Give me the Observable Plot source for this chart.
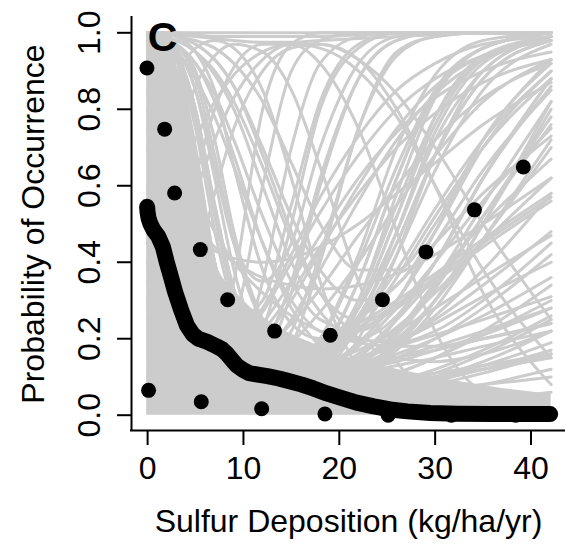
<!DOCTYPE html>
<html><head><meta charset="utf-8">
<script src="https://cdn.jsdelivr.net/npm/d3@7"></script>
<script src="https://cdn.jsdelivr.net/npm/@observablehq/plot@0.6"></script>
<style>html,body{margin:0;padding:0;background:#fff;}</style>
</head><body><div id="chart"></div>
<script>
// ---- Axis definitions ----
const xTicks = [0, 10, 20, 30, 40];
const yTicks = [0, 0.2, 0.4, 0.6, 0.8, 1.0];
const xDomain = [-1.68, 43.6];
const yDomain = [-0.04, 1.04];
const xTitle = "Sulfur Deposition (kg/ha/yr)";
const yTitle = "Probability of Occurrence";
const panelLabel = "C";

// ---- Binned observations (black dots) ----
const upperX = [-0.07, 1.78, 2.82, 5.5, 8.35, 13.25, 19.06, 24.5, 29.04, 34.1, 39.2];
const upperY = [0.908, 0.748, 0.581, 0.433, 0.302, 0.220, 0.209, 0.302, 0.427, 0.537, 0.649];
const lowerX = [0.1, 5.6, 11.9, 18.5, 25.1, 31.7, 38.4];
const lowerY = [0.065, 0.035, 0.017, 0.003, 0.0, 0.0, 0.0];

// ---- Fitted probability (thick black curve) ----
const fitX = [-0.05, 0.0, 0.1, 0.3, 0.6, 1.1, 1.6, 2.0, 2.4, 2.9, 3.5, 4.1, 4.7, 5.3, 6.2, 7.2, 7.8, 8.3, 8.8, 9.3, 10.0, 10.6, 11.5, 12.5, 13.7, 14.9, 16.1, 17.3, 18.7, 20.1, 21.8, 23.6, 25.3, 27.1, 29.5, 32.3, 36.0, 39.0, 42.0];
const fitY = [0.545, 0.53, 0.515, 0.50, 0.485, 0.468, 0.44, 0.40, 0.365, 0.32, 0.275, 0.235, 0.212, 0.200, 0.192, 0.180, 0.172, 0.160, 0.145, 0.130, 0.118, 0.110, 0.106, 0.102, 0.096, 0.088, 0.080, 0.070, 0.057, 0.046, 0.033, 0.023, 0.015, 0.010, 0.006, 0.004, 0.003, 0.003, 0.003];

// ---- Bootstrap curves (grey), y values read at gridX ----
const gridX = [0, 1.5, 3, 5, 7, 9, 12, 15, 18, 22, 26, 30, 35, 42.1];
const greyCurves = [
  // narrow U, back to 1 early
  [1.00, 0.90, 0.55, 0.20, 0.15, 0.35, 0.80, 0.97, 1, 1, 1, 1, 1, 1],
  [1.00, 0.97, 0.80, 0.40, 0.20, 0.25, 0.60, 0.90, 0.98, 1, 1, 1, 1, 1],
  [0.98, 0.75, 0.40, 0.15, 0.08, 0.12, 0.35, 0.70, 0.92, 0.99, 1, 1, 1, 1],
  [1.00, 0.99, 0.93, 0.70, 0.40, 0.25, 0.30, 0.55, 0.82, 0.97, 1, 1, 1, 1],
  [0.95, 0.65, 0.30, 0.12, 0.08, 0.10, 0.22, 0.50, 0.80, 0.96, 1, 1, 1, 1],
  [1.00, 0.98, 0.90, 0.65, 0.38, 0.22, 0.20, 0.35, 0.62, 0.88, 0.98, 1, 1, 1],
  [0.99, 0.85, 0.55, 0.25, 0.12, 0.09, 0.14, 0.32, 0.60, 0.88, 0.98, 1, 1, 1],
  [1.00, 0.99, 0.96, 0.85, 0.65, 0.45, 0.35, 0.45, 0.70, 0.92, 0.99, 1, 1, 1],
  [0.97, 0.70, 0.35, 0.15, 0.08, 0.06, 0.08, 0.18, 0.40, 0.75, 0.95, 0.99, 1, 1],
  [1.00, 0.95, 0.75, 0.45, 0.25, 0.16, 0.14, 0.22, 0.42, 0.75, 0.94, 0.99, 1, 1],
  // medium U, high at right
  [1.00, 0.98, 0.88, 0.60, 0.32, 0.16, 0.09, 0.10, 0.16, 0.35, 0.62, 0.84, 0.96, 1.00],
  [0.99, 0.90, 0.65, 0.32, 0.15, 0.08, 0.05, 0.06, 0.10, 0.24, 0.48, 0.74, 0.92, 0.99],
  [1.00, 0.99, 0.95, 0.80, 0.55, 0.32, 0.16, 0.12, 0.15, 0.30, 0.55, 0.78, 0.93, 0.99],
  [1.00, 0.96, 0.80, 0.50, 0.25, 0.13, 0.08, 0.08, 0.12, 0.25, 0.45, 0.68, 0.88, 0.98],
  [0.98, 0.82, 0.52, 0.24, 0.11, 0.06, 0.04, 0.05, 0.09, 0.20, 0.42, 0.68, 0.90, 0.99],
  [1.00, 0.99, 0.97, 0.90, 0.72, 0.48, 0.25, 0.16, 0.16, 0.26, 0.45, 0.68, 0.88, 0.98],
  [1.00, 0.97, 0.85, 0.55, 0.28, 0.15, 0.10, 0.12, 0.20, 0.40, 0.65, 0.85, 0.96, 1.00],
  [0.99, 0.93, 0.72, 0.40, 0.19, 0.10, 0.07, 0.08, 0.13, 0.28, 0.52, 0.76, 0.93, 0.99],
  [1.00, 1.00, 0.99, 0.95, 0.85, 0.65, 0.38, 0.24, 0.20, 0.28, 0.48, 0.72, 0.90, 0.99],
  [1.00, 0.98, 0.90, 0.68, 0.40, 0.22, 0.12, 0.10, 0.13, 0.24, 0.42, 0.64, 0.85, 0.97],
  [0.96, 0.75, 0.45, 0.20, 0.10, 0.06, 0.05, 0.07, 0.13, 0.30, 0.58, 0.83, 0.96, 1.00],
  [1.00, 0.99, 0.96, 0.85, 0.62, 0.38, 0.18, 0.12, 0.14, 0.28, 0.52, 0.78, 0.94, 0.99],
  [1.00, 0.95, 0.78, 0.48, 0.24, 0.13, 0.09, 0.11, 0.20, 0.42, 0.70, 0.89, 0.98, 1.00],
  [0.99, 0.88, 0.60, 0.30, 0.14, 0.08, 0.06, 0.08, 0.15, 0.35, 0.62, 0.85, 0.96, 1.00],
  // gentle U, minimum in the middle
  [1.00, 0.99, 0.97, 0.92, 0.84, 0.72, 0.52, 0.35, 0.25, 0.22, 0.30, 0.48, 0.72, 0.92],
  [1.00, 0.99, 0.98, 0.95, 0.90, 0.82, 0.65, 0.46, 0.32, 0.25, 0.28, 0.40, 0.62, 0.88],
  [1.00, 1.00, 0.99, 0.98, 0.96, 0.92, 0.82, 0.66, 0.50, 0.38, 0.38, 0.50, 0.72, 0.93],
  [1.00, 0.98, 0.95, 0.88, 0.78, 0.65, 0.45, 0.30, 0.22, 0.20, 0.26, 0.40, 0.62, 0.86],
  [1.00, 1.00, 0.99, 0.97, 0.93, 0.86, 0.70, 0.52, 0.38, 0.30, 0.34, 0.48, 0.70, 0.90],
  // moderate rise through the middle
  [0.90, 0.60, 0.35, 0.18, 0.12, 0.12, 0.16, 0.25, 0.38, 0.56, 0.72, 0.84, 0.93, 0.98],
  [0.70, 0.45, 0.28, 0.17, 0.13, 0.14, 0.20, 0.30, 0.43, 0.60, 0.75, 0.86, 0.94, 0.98],
  [0.50, 0.32, 0.22, 0.16, 0.15, 0.18, 0.27, 0.40, 0.53, 0.68, 0.80, 0.88, 0.94, 0.98],
  [0.40, 0.25, 0.17, 0.13, 0.13, 0.16, 0.24, 0.35, 0.47, 0.62, 0.74, 0.83, 0.90, 0.95],
  [0.80, 0.50, 0.30, 0.18, 0.13, 0.12, 0.14, 0.19, 0.27, 0.40, 0.55, 0.68, 0.82, 0.93],
  [0.30, 0.20, 0.15, 0.13, 0.14, 0.18, 0.28, 0.42, 0.57, 0.73, 0.85, 0.92, 0.97, 0.99],
  [0.60, 0.38, 0.24, 0.16, 0.13, 0.13, 0.17, 0.24, 0.33, 0.47, 0.60, 0.72, 0.83, 0.92],
  [0.25, 0.17, 0.13, 0.11, 0.12, 0.15, 0.22, 0.32, 0.44, 0.58, 0.70, 0.79, 0.87, 0.93],
  // wide U, mid-high at right
  [1.00, 0.96, 0.82, 0.55, 0.30, 0.17, 0.10, 0.08, 0.09, 0.14, 0.22, 0.34, 0.52, 0.76],
  [0.99, 0.88, 0.62, 0.33, 0.17, 0.10, 0.06, 0.05, 0.06, 0.10, 0.17, 0.28, 0.46, 0.72],
  [1.00, 0.99, 0.94, 0.78, 0.52, 0.30, 0.15, 0.10, 0.09, 0.12, 0.19, 0.30, 0.50, 0.80],
  [0.97, 0.78, 0.48, 0.23, 0.12, 0.08, 0.06, 0.06, 0.08, 0.13, 0.21, 0.33, 0.52, 0.78],
  [1.00, 0.98, 0.88, 0.62, 0.35, 0.19, 0.11, 0.09, 0.10, 0.15, 0.25, 0.40, 0.62, 0.88],
  [0.99, 0.92, 0.70, 0.40, 0.20, 0.11, 0.07, 0.06, 0.07, 0.11, 0.18, 0.30, 0.50, 0.82],
  [1.00, 0.99, 0.97, 0.88, 0.68, 0.45, 0.24, 0.15, 0.12, 0.14, 0.20, 0.30, 0.46, 0.70],
  [0.98, 0.85, 0.58, 0.30, 0.15, 0.09, 0.07, 0.08, 0.11, 0.18, 0.28, 0.40, 0.56, 0.75],
  [1.00, 0.97, 0.85, 0.58, 0.32, 0.18, 0.11, 0.10, 0.12, 0.19, 0.30, 0.45, 0.64, 0.85],
  [0.95, 0.70, 0.40, 0.19, 0.10, 0.07, 0.06, 0.07, 0.10, 0.16, 0.25, 0.36, 0.50, 0.67],
  [1.00, 0.99, 0.95, 0.80, 0.55, 0.33, 0.18, 0.12, 0.11, 0.14, 0.22, 0.35, 0.55, 0.82],
  [0.99, 0.90, 0.66, 0.36, 0.18, 0.11, 0.08, 0.09, 0.13, 0.22, 0.36, 0.52, 0.70, 0.88],
  [0.93, 0.66, 0.37, 0.18, 0.10, 0.07, 0.07, 0.09, 0.14, 0.24, 0.38, 0.54, 0.72, 0.90],
  [1.00, 0.98, 0.90, 0.66, 0.40, 0.23, 0.13, 0.10, 0.10, 0.13, 0.18, 0.26, 0.38, 0.58],
  // slow declines through the middle band
  [1.00, 0.99, 0.97, 0.92, 0.82, 0.68, 0.45, 0.28, 0.18, 0.12, 0.10, 0.10, 0.12, 0.16],
  [1.00, 1.00, 0.99, 0.97, 0.93, 0.86, 0.68, 0.48, 0.32, 0.20, 0.15, 0.14, 0.16, 0.22],
  [1.00, 0.99, 0.98, 0.95, 0.89, 0.80, 0.60, 0.40, 0.27, 0.20, 0.19, 0.22, 0.30, 0.45],
  [0.90, 0.80, 0.70, 0.58, 0.48, 0.40, 0.32, 0.26, 0.22, 0.19, 0.18, 0.18, 0.20, 0.24],
  [0.75, 0.66, 0.58, 0.50, 0.44, 0.40, 0.36, 0.34, 0.33, 0.34, 0.37, 0.42, 0.50, 0.62],
  [0.60, 0.55, 0.50, 0.46, 0.43, 0.41, 0.40, 0.41, 0.44, 0.50, 0.58, 0.66, 0.76, 0.87],
  // decreasing, staying low
  [1.00, 0.85, 0.55, 0.25, 0.12, 0.07, 0.05, 0.04, 0.04, 0.05, 0.06, 0.08, 0.11, 0.16],
  [0.95, 0.65, 0.33, 0.14, 0.07, 0.04, 0.03, 0.03, 0.03, 0.04, 0.05, 0.06, 0.08, 0.12],
  [1.00, 0.97, 0.85, 0.58, 0.32, 0.18, 0.10, 0.07, 0.06, 0.07, 0.08, 0.10, 0.14, 0.22],
  [0.90, 0.55, 0.25, 0.10, 0.05, 0.03, 0.02, 0.02, 0.02, 0.02, 0.03, 0.03, 0.04, 0.06],
  [1.00, 0.92, 0.70, 0.40, 0.22, 0.13, 0.09, 0.08, 0.09, 0.11, 0.15, 0.20, 0.28, 0.42],
  [0.85, 0.55, 0.30, 0.15, 0.09, 0.06, 0.05, 0.05, 0.06, 0.08, 0.11, 0.15, 0.22, 0.34],
  [0.70, 0.42, 0.22, 0.11, 0.07, 0.05, 0.04, 0.04, 0.05, 0.06, 0.08, 0.11, 0.16, 0.25],
  [0.60, 0.35, 0.19, 0.10, 0.07, 0.05, 0.05, 0.05, 0.06, 0.08, 0.11, 0.15, 0.21, 0.30],
  [0.80, 0.58, 0.38, 0.23, 0.15, 0.11, 0.09, 0.09, 0.10, 0.12, 0.15, 0.18, 0.22, 0.28],
  [0.55, 0.38, 0.25, 0.17, 0.12, 0.10, 0.09, 0.09, 0.10, 0.11, 0.13, 0.15, 0.18, 0.22],
  [0.45, 0.30, 0.19, 0.12, 0.08, 0.06, 0.05, 0.04, 0.04, 0.05, 0.06, 0.07, 0.08, 0.10],
  [1.00, 0.99, 0.93, 0.75, 0.48, 0.28, 0.14, 0.09, 0.07, 0.07, 0.08, 0.10, 0.13, 0.19],
  [0.75, 0.48, 0.27, 0.14, 0.08, 0.06, 0.05, 0.05, 0.06, 0.07, 0.09, 0.12, 0.17, 0.26],
  [0.99, 0.90, 0.65, 0.35, 0.18, 0.10, 0.06, 0.05, 0.05, 0.06, 0.07, 0.09, 0.12, 0.17],
  // low start, rising to the right
  [0.40, 0.30, 0.22, 0.15, 0.11, 0.09, 0.08, 0.09, 0.11, 0.16, 0.23, 0.32, 0.45, 0.62],
  [0.30, 0.22, 0.16, 0.11, 0.09, 0.08, 0.08, 0.09, 0.11, 0.14, 0.19, 0.25, 0.34, 0.48],
  [0.20, 0.16, 0.13, 0.10, 0.09, 0.08, 0.08, 0.09, 0.10, 0.13, 0.16, 0.20, 0.26, 0.36],
  [0.15, 0.12, 0.10, 0.09, 0.08, 0.08, 0.08, 0.09, 0.10, 0.12, 0.14, 0.17, 0.21, 0.28],
  [0.25, 0.20, 0.16, 0.13, 0.12, 0.11, 0.11, 0.12, 0.13, 0.15, 0.18, 0.21, 0.25, 0.31],
  [0.10, 0.09, 0.08, 0.08, 0.08, 0.08, 0.09, 0.10, 0.11, 0.13, 0.15, 0.17, 0.20, 0.24],
  [0.50, 0.36, 0.26, 0.18, 0.14, 0.12, 0.12, 0.14, 0.18, 0.25, 0.34, 0.45, 0.58, 0.73],
  [0.35, 0.26, 0.20, 0.16, 0.14, 0.13, 0.14, 0.16, 0.19, 0.24, 0.30, 0.37, 0.46, 0.58],
  [0.12, 0.10, 0.09, 0.08, 0.07, 0.07, 0.07, 0.08, 0.08, 0.09, 0.10, 0.11, 0.13, 0.16],
  [0.22, 0.17, 0.14, 0.12, 0.11, 0.11, 0.12, 0.14, 0.17, 0.22, 0.28, 0.35, 0.44, 0.56],
  [0.08, 0.07, 0.06, 0.06, 0.06, 0.06, 0.06, 0.07, 0.07, 0.08, 0.09, 0.10, 0.12, 0.15],
  [0.45, 0.33, 0.24, 0.17, 0.13, 0.11, 0.10, 0.11, 0.13, 0.17, 0.22, 0.28, 0.36, 0.47],
  [0.18, 0.15, 0.13, 0.12, 0.12, 0.12, 0.13, 0.15, 0.18, 0.23, 0.29, 0.36, 0.45, 0.57],
  [0.28, 0.21, 0.16, 0.12, 0.10, 0.09, 0.09, 0.10, 0.12, 0.15, 0.19, 0.24, 0.31, 0.40],
  // hump-shaped
  [0.30, 0.50, 0.70, 0.86, 0.94, 0.97, 0.95, 0.85, 0.65, 0.35, 0.14, 0.05, 0.01, 0.00],
  [0.10, 0.22, 0.40, 0.62, 0.80, 0.91, 0.97, 0.97, 0.92, 0.75, 0.48, 0.22, 0.06, 0.01],
  [0.50, 0.72, 0.87, 0.96, 0.98, 0.96, 0.85, 0.62, 0.35, 0.12, 0.03, 0.01, 0.00, 0.00],
  [0.05, 0.10, 0.20, 0.38, 0.58, 0.75, 0.90, 0.96, 0.97, 0.93, 0.80, 0.60, 0.32, 0.08],
  [0.40, 0.50, 0.60, 0.72, 0.82, 0.89, 0.95, 0.97, 0.96, 0.90, 0.78, 0.60, 0.38, 0.15],
  [0.20, 0.30, 0.42, 0.58, 0.72, 0.83, 0.93, 0.97, 0.97, 0.93, 0.84, 0.70, 0.50, 0.25],
  // saturated near 1
  [1, 1, 1, 1, 1, 1, 1, 1, 1, 1, 1, 1, 1, 1],
  [1, 1, 0.995, 0.99, 0.985, 0.98, 0.975, 0.975, 0.98, 0.985, 0.99, 0.995, 1, 1],
  [1, 1, 1, 0.995, 0.99, 0.99, 0.99, 0.99, 0.99, 0.995, 1, 1, 1, 1]
];

// ---- Dense envelope where the grey curves overlap completely ----
const denseX   = [-0.1, 2.5, 3.5, 5.0, 7.0, 10.0, 13.0, 17.0, 21.0, 26.0, 32.0, 37.0, 42.1];
const denseTop = [1.0, 1.0, 0.80, 0.55, 0.40, 0.30, 0.24, 0.19, 0.15, 0.12, 0.09, 0.07, 0.055];

// ---- Build tables ----
const greyRows = greyCurves.flatMap((ys, i) => ys.map((y, j) => ({curve: i, x: gridX[j], y})));
const denseRows = denseX.map((x, i) => ({x, top: denseTop[i]}));
const dotRows = upperX.map((x, i) => ({x, y: upperY[i]})).concat(lowerX.map((x, i) => ({x, y: lowerY[i]})));
const fitRows = fitX.map((x, i) => ({x, y: fitY[i]}));

const GREY = "#cccccc";
const chart = Plot.plot({
  width: 565,
  height: 544,
  marginLeft: 131,
  marginRight: 0,
  marginTop: 17,
  marginBottom: 114,
  x: {domain: xDomain},
  y: {domain: yDomain},
  style: {fontFamily: "'Liberation Sans', Arial, sans-serif", fontSize: "32px", color: "black", background: "white"},
  marks: [
    Plot.areaY(denseRows, {x: "x", y1: 0, y2: "top", fill: GREY, curve: "monotone-x"}),
    Plot.line(greyRows, {x: "x", y: "y", z: "curve", stroke: GREY, strokeWidth: 3, curve: "monotone-x"}),
    Plot.dot(dotRows, {x: "x", y: "y", r: 7.5, fill: "black", stroke: "none"}),
    Plot.line(fitRows, {x: "x", y: "y", stroke: "black", strokeWidth: 16, strokeLinecap: "round", strokeLinejoin: "round"}),
    Plot.text([panelLabel], {frameAnchor: "top-left", dx: 31, dy: 33, textAnchor: "middle", lineAnchor: "bottom", fontSize: 41, fontWeight: "bold", fill: "black"}),
    Plot.ruleX([xDomain[0]], {stroke: "black", strokeWidth: 2, strokeLinecap: "square"}),
    Plot.ruleY([yDomain[0]], {stroke: "black", strokeWidth: 2, strokeLinecap: "square"}),
    Plot.axisX({ticks: xTicks, tickSize: 15, tickPadding: 11, strokeWidth: 2, fontSize: 32, label: null}),
    Plot.axisY({ticks: yTicks, tickSize: 14, strokeWidth: 2, fill: "none", label: null}),
    Plot.text(yTicks, {y: d => d, text: d => d.toFixed(1), frameAnchor: "left", dx: -32, rotate: -90, textAnchor: "middle", lineAnchor: "bottom", fontSize: 32, fill: "black"}),
    Plot.text([yTitle], {frameAnchor: "left", dx: -88, rotate: -90, textAnchor: "middle", lineAnchor: "bottom", fontSize: 32, fill: "black"}),
    Plot.text([xTitle], {frameAnchor: "bottom", dy: 101.5, textAnchor: "middle", lineAnchor: "bottom", fontSize: 32, fill: "black"})
  ]
});
document.getElementById("chart").appendChild(chart);
</script></body></html>
